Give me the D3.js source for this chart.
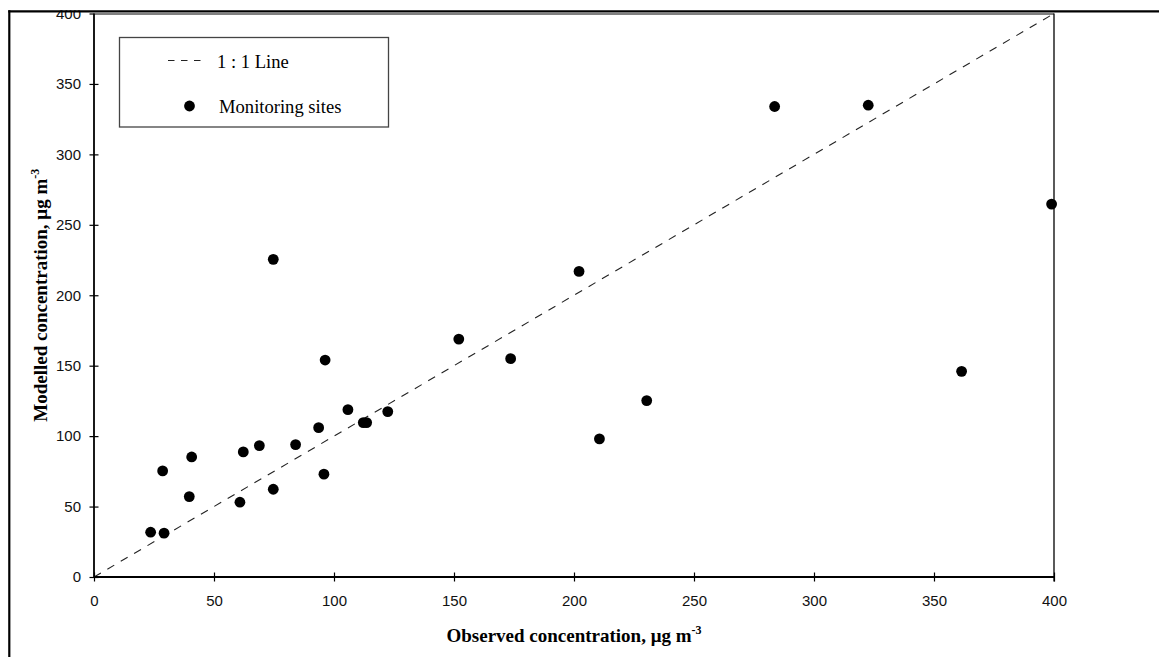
<!DOCTYPE html>
<html>
<head>
<meta charset="utf-8">
<script src="https://cdn.jsdelivr.net/npm/d3@7"></script>
<style>
  html, body { margin: 0; padding: 0; background: #fff; }
  svg { display: block; }
</style>
</head>
<body>
<svg id="chart" width="1159" height="657"></svg>
<script>
// Observed vs modelled concentrations at each monitoring site (µg m-3)
const observed = [23.6, 29.2, 28.6, 39.7, 40.7, 60.8, 62.2, 68.9, 74.7, 74.7,
                  84.0, 93.6, 96.3, 95.8, 105.8, 112.2, 113.6, 122.4, 152.0, 173.6,
                  202.1, 210.6, 230.3, 283.6, 322.6, 361.5, 399.0];
const modelled = [31.8, 31.1, 75.3, 57.1, 85.2, 53.1, 88.8, 93.3, 225.5, 62.3,
                  94.0, 106.0, 154.0, 73.0, 118.8, 109.6, 109.6, 117.4, 168.9, 155.0,
                  216.9, 98.0, 125.2, 334.0, 334.9, 146.0, 264.7];
const xTicks = [0, 50, 100, 150, 200, 250, 300, 350, 400];
const yTicks = [0, 50, 100, 150, 200, 250, 300, 350, 400];
const oneToOne = [0, 400];

const svg = d3.select("#chart");
const plotLeft = 94, plotRight = 1054, plotTop = 13.5, plotBottom = 577;

const x = d3.scaleLinear().domain([0, 400]).range([plotLeft, plotRight]);
const y = d3.scaleLinear().domain([0, 400]).range([plotBottom, plotTop]);

const sans = "'Liberation Sans', Arial, sans-serif";
const serif = "'Liberation Serif', 'Times New Roman', serif";

// 1:1 reference line
svg.append("line")
  .attr("x1", x(oneToOne[0])).attr("y1", y(oneToOne[0]))
  .attr("x2", x(oneToOne[1])).attr("y2", y(oneToOne[1]))
  .attr("stroke", "#222").attr("stroke-width", 1.1)
  .attr("stroke-dasharray", "8,7.5");

// Site markers
svg.append("g").selectAll("circle")
  .data(observed.map((o, i) => [o, modelled[i]]))
  .join("circle")
  .attr("cx", d => x(d[0]))
  .attr("cy", d => y(d[1]))
  .attr("r", 5.4)
  .attr("fill", "#000");

// Axes with ticks crossing the axis line
const xAxis = svg.append("g")
  .attr("transform", `translate(0,${plotBottom})`)
  .call(d3.axisBottom(x).tickValues(xTicks).tickSize(4.5).tickPadding(14));
xAxis.select(".domain").remove();
xAxis.selectAll(".tick line").attr("y1", -4.5).attr("y2", 4.5).attr("stroke", "#000").attr("stroke-width", 1.2);
xAxis.selectAll(".tick text")
  .attr("font-family", sans).attr("font-size", 15).attr("fill", "#111");

const yAxis = svg.append("g")
  .attr("transform", `translate(${plotLeft},0)`)
  .call(d3.axisLeft(y).tickValues(yTicks).tickSize(4.5).tickPadding(8.5));
yAxis.select(".domain").remove();
yAxis.selectAll(".tick line").attr("x1", -4.5).attr("x2", 4.5).attr("stroke", "#000").attr("stroke-width", 1.2);
yAxis.selectAll(".tick text")
  .attr("font-family", sans).attr("font-size", 15).attr("fill", "#111");

// Plot area frame
svg.append("line").attr("x1", plotLeft).attr("x2", plotRight).attr("y1", plotTop + 0.5).attr("y2", plotTop + 0.5)
  .attr("stroke", "#808080").attr("stroke-width", 2);
svg.append("line").attr("x1", plotRight).attr("x2", plotRight).attr("y1", plotTop).attr("y2", plotBottom + 4.5)
  .attr("stroke", "#000").attr("stroke-width", 1.3);
svg.append("line").attr("x1", plotLeft).attr("x2", plotRight).attr("y1", plotBottom).attr("y2", plotBottom)
  .attr("stroke", "#000").attr("stroke-width", 2);
svg.append("line").attr("x1", plotLeft).attr("x2", plotLeft).attr("y1", plotTop).attr("y2", plotBottom)
  .attr("stroke", "#000").attr("stroke-width", 1.8);

// Axis titles
const xTitle = svg.append("text")
  .attr("x", (plotLeft + plotRight) / 2).attr("y", 642)
  .attr("text-anchor", "middle")
  .attr("font-family", serif).attr("font-weight", "bold").attr("font-size", 19).attr("fill", "#000");
xTitle.append("tspan").text("Observed concentration, \u03bcg m");
xTitle.append("tspan").attr("font-size", 12).attr("dy", -8).text("-3");

const yTitle = svg.append("text")
  .attr("transform", `translate(46.5,${(plotTop + plotBottom) / 2}) rotate(-90)`)
  .attr("text-anchor", "middle")
  .attr("font-family", serif).attr("font-weight", "bold").attr("font-size", 19).attr("fill", "#000");
yTitle.append("tspan").text("Modelled concentration, \u03bcg m");
yTitle.append("tspan").attr("font-size", 12).attr("dy", -8).text("-3");

// Legend
const legend = svg.append("g");
legend.append("rect")
  .attr("x", 119.5).attr("y", 37.5).attr("width", 269).attr("height", 89.5)
  .attr("fill", "#fff").attr("stroke", "#444").attr("stroke-width", 1.3);
legend.append("line")
  .attr("x1", 168).attr("x2", 207).attr("y1", 60.5).attr("y2", 60.5)
  .attr("stroke", "#222").attr("stroke-width", 1.1).attr("stroke-dasharray", "6.5,6.5");
legend.append("text")
  .attr("x", 217).attr("y", 67.5)
  .attr("font-family", serif).attr("font-size", 18.6).attr("fill", "#000")
  .text("1 : 1 Line");
legend.append("circle").attr("cx", 189.5).attr("cy", 106).attr("r", 5.4).attr("fill", "#000");
legend.append("text")
  .attr("x", 219).attr("y", 112.5)
  .attr("font-family", serif).attr("font-size", 18.6).attr("fill", "#000")
  .text("Monitoring sites");

// Outer frame (clipped at the top and right)
svg.append("rect").attr("x", 0).attr("y", 0).attr("width", 1159).attr("height", 10.3).attr("fill", "#fff");
svg.append("line").attr("x1", 8.3).attr("x2", 1159).attr("y1", 11.3).attr("y2", 11.3)
  .attr("stroke", "#000").attr("stroke-width", 2.2);
svg.append("line").attr("x1", 9.3).attr("x2", 9.3).attr("y1", 10.2).attr("y2", 657)
  .attr("stroke", "#000").attr("stroke-width", 2.2);
</script>
</body>
</html>
